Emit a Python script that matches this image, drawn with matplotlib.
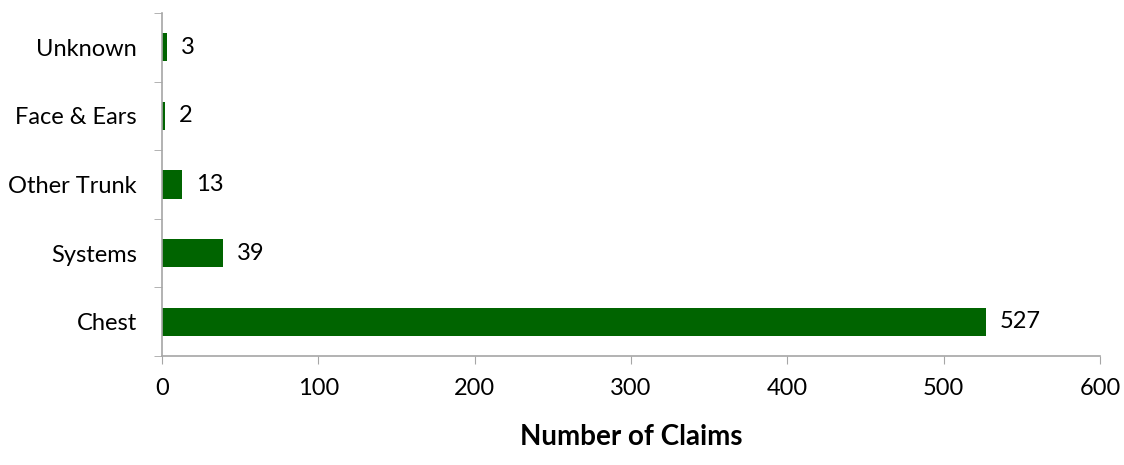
import matplotlib
matplotlib.use("Agg")
import matplotlib.pyplot as plt

# data
categories = ["Chest", "Systems", "Other Trunk", "Face & Ears", "Unknown"]
claims = [527, 39, 13, 2, 3]
x_ticks = [0, 100, 200, 300, 400, 500, 600]

plt.rcParams['font.family'] = ['Lato', 'DejaVu Sans']

fig = plt.figure(figsize=(11.24, 4.65), dpi=100)
ax = fig.add_axes([0.1441, 0.2344, 0.8345, 0.7376])

bar_color = '#006400'
axis_color = '#a6a6a6'

ypos = list(range(len(categories)))
ax.barh(ypos, claims, height=0.41, color=bar_color)

for y, v in zip(ypos, claims):
    ax.annotate(str(v), (v, y), xytext=(10, 0), textcoords='offset points',
                ha='left', va='center', fontsize=17, color='black')

ax.set_xlim(0, 600)
ax.set_ylim(-0.5, len(categories) - 0.5)
ax.set_xticks(x_ticks)
ax.set_xticklabels([str(t) for t in x_ticks], fontsize=17)
ax.set_yticks(ypos)
ax.set_yticklabels(categories, fontsize=17)
ax.set_yticks([i - 0.5 for i in range(len(categories) + 1)], minor=True)

ax.tick_params(axis='y', which='major', length=0, pad=18)
ax.tick_params(axis='y', which='minor', length=6, color=axis_color, direction='out')
ax.tick_params(axis='x', which='major', length=6, color=axis_color, direction='out', pad=10)

for side in ['top', 'right']:
    ax.spines[side].set_visible(False)
for side in ['left', 'bottom']:
    ax.spines[side].set_color(axis_color)
    ax.spines[side].set_linewidth(1.2)

ax.set_xlabel("Number of Claims", fontsize=20, fontweight='bold', labelpad=18)

fig.savefig("out.png", dpi=100)
